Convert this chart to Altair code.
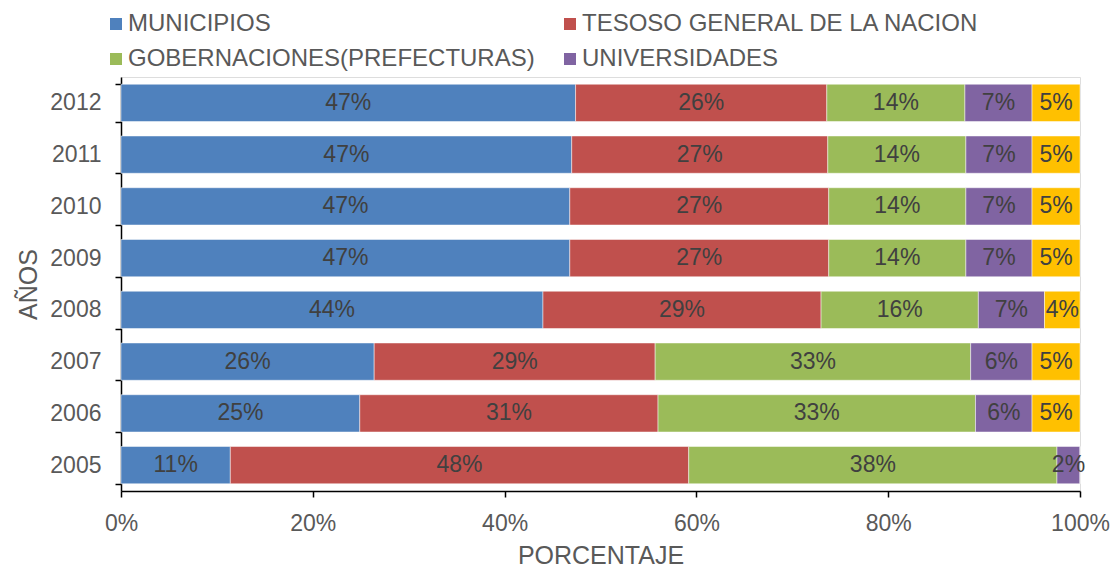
import altair as alt
import pandas as pd

years = ["2005", "2006", "2007", "2008", "2009", "2010", "2011", "2012"]
series = ["MUNICIPIOS", "TESOSO GENERAL DE LA NACION", "GOBERNACIONES(PREFECTURAS)",
          "UNIVERSIDADES", "OTROS"]
municipios = [11.4, 24.9, 26.4, 44.0, 46.8, 46.8, 47.0, 47.4]
tesoro = [47.8, 31.1, 29.3, 29.0, 27.0, 27.0, 26.7, 26.2]
gobernaciones = [38.4, 33.1, 32.9, 16.4, 14.3, 14.3, 14.4, 14.4]
universidades = [2.4, 5.9, 6.4, 6.9, 6.9, 6.9, 6.9, 7.0]
otros = [0.0, 5.0, 5.0, 3.7, 5.0, 5.0, 5.0, 5.0]
colors = ["#4F81BD", "#C0504D", "#9BBB59", "#8064A2", "#FFC000"]
x_ticks = [0, 20, 40, 60, 80, 100]

all_vals = [municipios, tesoro, gobernaciones, universidades, otros]
rows = []
for i, yr in enumerate(years):
    for k, name in enumerate(series):
        rows.append({"year": yr, "series": name, "order": k, "value": all_vals[k][i]})
df = pd.DataFrame(rows)

FONT = "Liberation Sans"
GRAY = "#595959"

base = alt.Chart(df).transform_window(
    cum="sum(value)", groupby=["year"], sort=[alt.SortField("order")], frame=[None, 0]
).transform_calculate(
    start="datum.cum - datum.value",
    mid="datum.cum - datum.value / 2",
    frac="datum.value / 100",
)

yenc = alt.Y(
    "year:N",
    sort=alt.SortOrder("descending"),
    scale=alt.Scale(paddingInner=0.28, paddingOuter=0.14),
    axis=alt.Axis(
        title="AÑOS", titleFontSize=25, titleColor=GRAY, titleFontWeight="normal",
        titleFont=FONT, titlePadding=8,
        labelFontSize=23, labelColor=GRAY, labelFont=FONT, labelPadding=14,
        tickBand="extent", tickSize=6, tickColor="black", domainColor="black",
        domainWidth=1.5, tickWidth=1.5,
    ),
)

bars = base.mark_bar(stroke="#ffffff", strokeWidth=0.8, strokeOpacity=0.6).encode(
    x=alt.X(
        "start:Q",
        scale=alt.Scale(domain=[0, 100], nice=False),
        axis=alt.Axis(
            title="PORCENTAJE", titleFontSize=25, titleColor=GRAY, titleFontWeight="normal",
            titleFont=FONT, titlePadding=8,
            values=x_ticks, labelExpr="datum.value + '%'", labelFlush=False,
            labelFontSize=23, labelColor=GRAY, labelFont=FONT, labelPadding=15,
            grid=False, tickSize=6, tickColor="black", domainColor="black",
            domainWidth=1.5, tickWidth=1.5,
        ),
    ),
    x2="cum:Q",
    y=yenc,
    color=alt.Color(
        "series:N",
        scale=alt.Scale(domain=series, range=colors),
        legend=alt.Legend(
            title=None, orient="none", legendX=-17, legendY=-65, columns=2,
            direction="horizontal",
            values=series[:4], symbolType="square", symbolSize=144,
            symbolStrokeWidth=0, labelFontSize=24, labelColor=GRAY, labelFont=FONT,
            labelLimit=0, columnPadding=23, rowPadding=11, labelOffset=0,
        ),
    ),
)

labels = base.transform_filter("datum.value > 0").mark_text(
    fontSize=23, font=FONT, color="#404040", align="center", baseline="middle"
).encode(
    x=alt.X("mid:Q"),
    y=alt.Y("year:N", sort=alt.SortOrder("descending")),
    text=alt.Text("frac:Q", format=".0%"),
)

chart = alt.layer(bars, labels).properties(
    width=959, height=414,
    autosize=alt.AutoSizeParams(type="none"),
    padding={"left": 121, "top": 77, "right": 34, "bottom": 77},
).configure_view(stroke=None).configure(background="white")

chart.save("out.html", embed_options={"renderer": "svg", "actions": False})
